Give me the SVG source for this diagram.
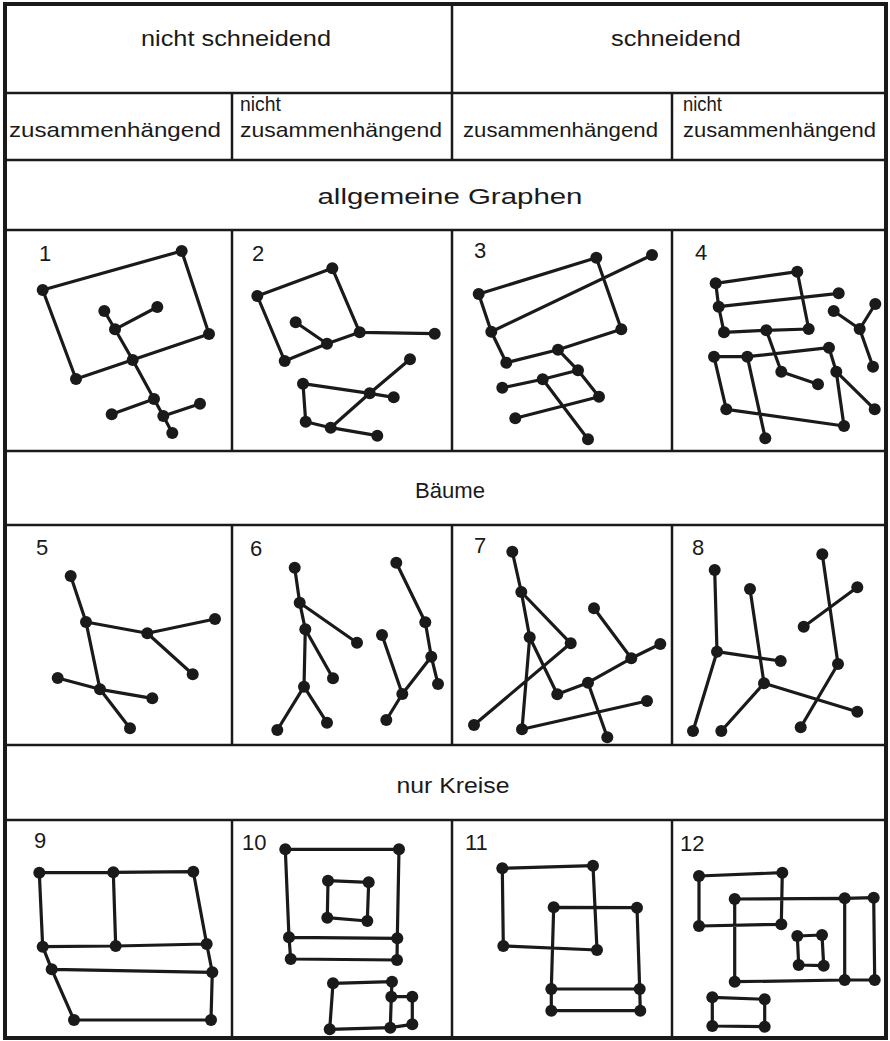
<svg xmlns="http://www.w3.org/2000/svg" width="890" height="1041" viewBox="0 0 890 1041">
<style>
.grid{fill:none;stroke:#1a1a1a;stroke-width:2.5}
.outer{fill:none;stroke:#1a1a1a;stroke-width:4}
.e{fill:none;stroke:#1a1a1a;stroke-width:3.2;stroke-linejoin:round;stroke-linecap:round}
.n circle{fill:#1a1a1a}
.t{font-family:"Liberation Sans",Arial,sans-serif;fill:#1a1a1a;font-size:22px}
.h{font-family:"Liberation Sans",Arial,sans-serif;fill:#1a1a1a;font-size:21px}
.num{font-family:"Liberation Sans",Arial,sans-serif;fill:#1a1a1a;font-size:22px}
</style>
<rect width="890" height="1041" fill="#ffffff"/>
<g id="table">
<rect class="outer" x="5" y="4" width="881" height="1034"/>
<path class="grid" d="M5,93 H886 M5,160 H886 M5,230 H886 M5,451 H886 M5,525 H886 M5,745 H886 M5,820 H886"/>
<path class="grid" d="M452,4 V160 M232,93 V160 M672,93 V160 M232,230 V451 M452,230 V451 M672,230 V451 M232,525 V745 M452,525 V745 M672,525 V745 M232,820 V1038 M452,820 V1038 M672,820 V1038"/>
</g>
<g id="headers">
<text class="t" x="236" y="46" text-anchor="middle" textLength="190" lengthAdjust="spacingAndGlyphs">nicht schneidend</text>
<text class="t" x="676" y="46" text-anchor="middle" textLength="130" lengthAdjust="spacingAndGlyphs">schneidend</text>
<text class="h" x="9" y="137" textLength="212" lengthAdjust="spacingAndGlyphs">zusammenhängend</text>
<text class="h" x="240" y="111" textLength="41" lengthAdjust="spacingAndGlyphs">nicht</text>
<text class="h" x="240" y="137" textLength="202" lengthAdjust="spacingAndGlyphs">zusammenhängend</text>
<text class="h" x="463" y="137" textLength="195" lengthAdjust="spacingAndGlyphs">zusammenhängend</text>
<text class="h" x="683" y="111" textLength="39" lengthAdjust="spacingAndGlyphs">nicht</text>
<text class="h" x="683" y="137" textLength="193" lengthAdjust="spacingAndGlyphs">zusammenhängend</text>
<text class="t" x="450" y="204" text-anchor="middle" textLength="265" lengthAdjust="spacingAndGlyphs">allgemeine Graphen</text>
<text class="t" x="450" y="498" text-anchor="middle" textLength="70" lengthAdjust="spacingAndGlyphs">Bäume</text>
<text class="t" x="453" y="793" text-anchor="middle" textLength="113" lengthAdjust="spacingAndGlyphs">nur Kreise</text>
</g>
<g id="labels">
<text class="num" x="39" y="261">1</text>
<text class="num" x="252" y="261">2</text>
<text class="num" x="474" y="258">3</text>
<text class="num" x="695" y="260">4</text>
<text class="num" x="36" y="555">5</text>
<text class="num" x="250" y="556">6</text>
<text class="num" x="474" y="553">7</text>
<text class="num" x="692" y="555">8</text>
<text class="num" x="34" y="848">9</text>
<text class="num" x="242" y="850">10</text>
<text class="num" x="465" y="850">11</text>
<text class="num" x="680" y="851">12</text>
</g>
<g id="connectors">
<path id="edges1" class="e" d="M42.7,290 L181.7,251 L209,334 L76,379 Z M104.3,311 L115,329.3 L132.7,360 L154,399 L163.3,416 L172.3,433 M115,329.3 L157.3,307 M111.7,414.3 L154,399 M163.3,416 L200,403.7"/>
<path id="edges2" class="e" d="M257.3,296 L332.3,268.3 L359.7,332.3 L327,343.7 L284.7,361 Z M295.7,322.3 L327,343.7 M359.7,332.3 L434.7,333.7 M303,383.7 L305.7,421.7 L330.7,427.7 L377.3,435.7 M303,383.7 L369.7,393.3 L393.7,397.3 M330.7,427.7 L369.7,393.3 L410,359.3"/>
<path id="edges3" class="e" d="M478.7,294 L596.3,257.7 L621.3,329.3 L558,349.7 L506.3,362.7 L491.3,331.7 Z M491.3,331.7 L652,255 M558,349.7 L578,370.3 L599,396.7 L515.3,418.3 M502.3,387.7 L542.7,379.3 L578,370.3 M542.7,379.3 L588,439.3"/>
<path id="edges4" class="e" d="M715.7,283.3 L797.3,271.7 L808.7,329 L766.3,330.3 L724,332.3 L718.7,306.7 Z M718.7,306.7 L838.7,293.3 M766.3,330.3 L781.3,371.7 L818,384.3 M833.7,311 L859.7,329 L875.3,304 M859.7,329 L873,366.7 M714,356.7 L747.3,356.7 L829,347.7 L836.3,371.7 L844,426 L726.3,409.3 Z M747.3,356.7 L765.3,438.3 M836.3,371.7 L874.7,409.3"/>
<path id="edges5" class="e" d="M70.7,576 L86,622 L147.3,633.3 L215,619 M147.3,633.3 L192.7,674.3 M86,622 L100,689.3 L130,728.3 M57.7,678 L100,689.3 L152.3,698.3"/>
<path id="edges6" class="e" d="M294.7,567.7 L299.7,602.7 L357,642.7 M299.7,602.7 L305.3,629.3 L333,678.3 M305.3,629.3 L304,686.7 L277.3,730 M304,686.7 L327,722.7 M396.3,562.7 L425.3,622.3 L431.3,656.7 L438,684 M431.3,656.7 L402.3,694 L386.3,720 M382,635 L402.3,694"/>
<path id="edges7" class="e" d="M512.3,551.7 L521.3,592 L570.7,643.3 L474,725 M521.3,592 L529.7,637.3 L522,729.3 L647,701 M529.7,637.3 L557.3,694.3 L588,682.7 L631.3,658.3 L660.3,644 M588,682.7 L607.3,737.3 M594,608.3 L631.3,658.3"/>
<path id="edges8" class="e" d="M714.7,570 L717,651.7 L780.7,661 M717,651.7 L693,731 M750,589 L764,683.3 L721.3,731 M764,683.3 L857.3,711.7 M822.3,554.3 L838,664 L800.7,727.3 M857.3,587.3 L803.7,626.7"/>
<path id="edges9" class="e" d="M39.3,872.7 L113.3,872.3 L193.3,871.7 L206.7,944 L115.7,946 L42.7,946.7 Z M113.3,872.3 L115.7,946 M42.7,946.7 L51.7,969.3 L74,1020 L211,1020 L212.3,972.3 L206.7,944 M51.7,969.3 L212.3,972.3"/>
<path id="edges10" class="e" d="M285.3,849.3 L399,849.3 L397.3,938.3 L289,937.3 Z M289,937.3 L290.7,959 L397,960 L397.3,938.3 M328,880.7 L368.7,882.3 L367.3,921 L327.3,917.7 Z M333,983.3 L392,981.7 L391.3,996.7 L390.3,1027.7 L329.7,1029.3 Z M391.3,996.7 L412.3,996.7 L412.3,1024.3 L390.3,1027.7"/>
<path id="edges11" class="e" d="M502.3,868.3 L593,865.7 L597,950 L503.3,946 Z M553.7,907.3 L637,907.7 L639.7,989 L551.3,989 Z M551.3,989 L551.3,1010.7 L640.3,1010.7 L639.7,989"/>
<path id="edges12" class="e" d="M699,876 L782.3,872.7 L781.3,924.3 L699,926 Z M734.7,899 L844.7,898.3 L873.7,897.7 L874.7,980 L844.7,980 L734.7,981.7 Z M844.7,898.3 L844.7,980 M797.3,936 L822,935 L823.7,965.7 L798.7,965 Z M712.3,997.3 L764.7,999.3 L764.7,1026.7 L712.3,1026 Z"/>
</g>
<g id="graph1" class="n">
<circle cx="42.7" cy="290" r="6"/><circle cx="181.7" cy="251" r="6"/><circle cx="209" cy="334" r="6"/><circle cx="76" cy="379" r="6"/><circle cx="104.3" cy="311" r="6"/><circle cx="157.3" cy="307" r="6"/><circle cx="115" cy="329.3" r="6"/><circle cx="132.7" cy="360" r="6"/><circle cx="154" cy="399" r="6"/><circle cx="111.7" cy="414.3" r="6"/><circle cx="200" cy="403.7" r="6"/><circle cx="163.3" cy="416" r="6"/><circle cx="172.3" cy="433" r="6"/>
</g>
<g id="graph2" class="n">
<circle cx="257.3" cy="296" r="6"/><circle cx="332.3" cy="268.3" r="6"/><circle cx="359.7" cy="332.3" r="6"/><circle cx="284.7" cy="361" r="6"/><circle cx="295.7" cy="322.3" r="6"/><circle cx="327" cy="343.7" r="6"/><circle cx="434.7" cy="333.7" r="6"/><circle cx="303" cy="383.7" r="6"/><circle cx="305.7" cy="421.7" r="6"/><circle cx="330.7" cy="427.7" r="6"/><circle cx="377.3" cy="435.7" r="6"/><circle cx="369.7" cy="393.3" r="6"/><circle cx="393.7" cy="397.3" r="6"/><circle cx="410" cy="359.3" r="6"/>
</g>
<g id="graph3" class="n">
<circle cx="478.7" cy="294" r="6"/><circle cx="596.3" cy="257.7" r="6"/><circle cx="621.3" cy="329.3" r="6"/><circle cx="506.3" cy="362.7" r="6"/><circle cx="491.3" cy="331.7" r="6"/><circle cx="652" cy="255" r="6"/><circle cx="558" cy="349.7" r="6"/><circle cx="578" cy="370.3" r="6"/><circle cx="599" cy="396.7" r="6"/><circle cx="502.3" cy="387.7" r="6"/><circle cx="542.7" cy="379.3" r="6"/><circle cx="515.3" cy="418.3" r="6"/><circle cx="588" cy="439.3" r="6"/>
</g>
<g id="graph4" class="n">
<circle cx="715.7" cy="283.3" r="6"/><circle cx="797.3" cy="271.7" r="6"/><circle cx="808.7" cy="329" r="6"/><circle cx="724" cy="332.3" r="6"/><circle cx="718.7" cy="306.7" r="6"/><circle cx="838.7" cy="293.3" r="6"/><circle cx="766.3" cy="330.3" r="6"/><circle cx="781.3" cy="371.7" r="6"/><circle cx="818" cy="384.3" r="6"/><circle cx="833.7" cy="311" r="6"/><circle cx="859.7" cy="329" r="6"/><circle cx="875.3" cy="304" r="6"/><circle cx="873" cy="366.7" r="6"/><circle cx="714" cy="356.7" r="6"/><circle cx="747.3" cy="356.7" r="6"/><circle cx="829" cy="347.7" r="6"/><circle cx="836.3" cy="371.7" r="6"/><circle cx="844" cy="426" r="6"/><circle cx="726.3" cy="409.3" r="6"/><circle cx="765.3" cy="438.3" r="6"/><circle cx="874.7" cy="409.3" r="6"/>
</g>
<g id="graph5" class="n">
<circle cx="70.7" cy="576" r="6"/><circle cx="86" cy="622" r="6"/><circle cx="147.3" cy="633.3" r="6"/><circle cx="215" cy="619" r="6"/><circle cx="192.7" cy="674.3" r="6"/><circle cx="57.7" cy="678" r="6"/><circle cx="100" cy="689.3" r="6"/><circle cx="152.3" cy="698.3" r="6"/><circle cx="130" cy="728.3" r="6"/>
</g>
<g id="graph6" class="n">
<circle cx="294.7" cy="567.7" r="6"/><circle cx="299.7" cy="602.7" r="6"/><circle cx="357" cy="642.7" r="6"/><circle cx="305.3" cy="629.3" r="6"/><circle cx="333" cy="678.3" r="6"/><circle cx="304" cy="686.7" r="6"/><circle cx="277.3" cy="730" r="6"/><circle cx="327" cy="722.7" r="6"/><circle cx="396.3" cy="562.7" r="6"/><circle cx="425.3" cy="622.3" r="6"/><circle cx="431.3" cy="656.7" r="6"/><circle cx="438" cy="684" r="6"/><circle cx="382" cy="635" r="6"/><circle cx="402.3" cy="694" r="6"/><circle cx="386.3" cy="720" r="6"/>
</g>
<g id="graph7" class="n">
<circle cx="512.3" cy="551.7" r="6"/><circle cx="521.3" cy="592" r="6"/><circle cx="570.7" cy="643.3" r="6"/><circle cx="529.7" cy="637.3" r="6"/><circle cx="474" cy="725" r="6"/><circle cx="522" cy="729.3" r="6"/><circle cx="647" cy="701" r="6"/><circle cx="557.3" cy="694.3" r="6"/><circle cx="588" cy="682.7" r="6"/><circle cx="607.3" cy="737.3" r="6"/><circle cx="631.3" cy="658.3" r="6"/><circle cx="660.3" cy="644" r="6"/><circle cx="594" cy="608.3" r="6"/>
</g>
<g id="graph8" class="n">
<circle cx="714.7" cy="570" r="6"/><circle cx="717" cy="651.7" r="6"/><circle cx="780.7" cy="661" r="6"/><circle cx="693" cy="731" r="6"/><circle cx="750" cy="589" r="6"/><circle cx="764" cy="683.3" r="6"/><circle cx="721.3" cy="731" r="6"/><circle cx="857.3" cy="711.7" r="6"/><circle cx="822.3" cy="554.3" r="6"/><circle cx="838" cy="664" r="6"/><circle cx="800.7" cy="727.3" r="6"/><circle cx="857.3" cy="587.3" r="6"/><circle cx="803.7" cy="626.7" r="6"/>
</g>
<g id="graph9" class="n">
<circle cx="39.3" cy="872.7" r="6"/><circle cx="113.3" cy="872.3" r="6"/><circle cx="193.3" cy="871.7" r="6"/><circle cx="42.7" cy="946.7" r="6"/><circle cx="115.7" cy="946" r="6"/><circle cx="206.7" cy="944" r="6"/><circle cx="51.7" cy="969.3" r="6"/><circle cx="212.3" cy="972.3" r="6"/><circle cx="74" cy="1020" r="6"/><circle cx="211" cy="1020" r="6"/>
</g>
<g id="graph10" class="n">
<circle cx="285.3" cy="849.3" r="6"/><circle cx="399" cy="849.3" r="6"/><circle cx="397.3" cy="938.3" r="6"/><circle cx="289" cy="937.3" r="6"/><circle cx="290.7" cy="959" r="6"/><circle cx="397" cy="960" r="6"/><circle cx="328" cy="880.7" r="6"/><circle cx="368.7" cy="882.3" r="6"/><circle cx="367.3" cy="921" r="6"/><circle cx="327.3" cy="917.7" r="6"/><circle cx="333" cy="983.3" r="6"/><circle cx="392" cy="981.7" r="6"/><circle cx="391.3" cy="996.7" r="6"/><circle cx="412.3" cy="996.7" r="6"/><circle cx="412.3" cy="1024.3" r="6"/><circle cx="390.3" cy="1027.7" r="6"/><circle cx="329.7" cy="1029.3" r="6"/>
</g>
<g id="graph11" class="n">
<circle cx="502.3" cy="868.3" r="6"/><circle cx="593" cy="865.7" r="6"/><circle cx="597" cy="950" r="6"/><circle cx="503.3" cy="946" r="6"/><circle cx="553.7" cy="907.3" r="6"/><circle cx="637" cy="907.7" r="6"/><circle cx="639.7" cy="989" r="6"/><circle cx="551.3" cy="989" r="6"/><circle cx="551.3" cy="1010.7" r="6"/><circle cx="640.3" cy="1010.7" r="6"/>
</g>
<g id="graph12" class="n">
<circle cx="699" cy="876" r="6"/><circle cx="782.3" cy="872.7" r="6"/><circle cx="781.3" cy="924.3" r="6"/><circle cx="699" cy="926" r="6"/><circle cx="734.7" cy="899" r="6"/><circle cx="844.7" cy="898.3" r="6"/><circle cx="873.7" cy="897.7" r="6"/><circle cx="874.7" cy="980" r="6"/><circle cx="844.7" cy="980" r="6"/><circle cx="734.7" cy="981.7" r="6"/><circle cx="797.3" cy="936" r="6"/><circle cx="822" cy="935" r="6"/><circle cx="823.7" cy="965.7" r="6"/><circle cx="798.7" cy="965" r="6"/><circle cx="712.3" cy="997.3" r="6"/><circle cx="764.7" cy="999.3" r="6"/><circle cx="764.7" cy="1026.7" r="6"/><circle cx="712.3" cy="1026" r="6"/>
</g>
</svg>
